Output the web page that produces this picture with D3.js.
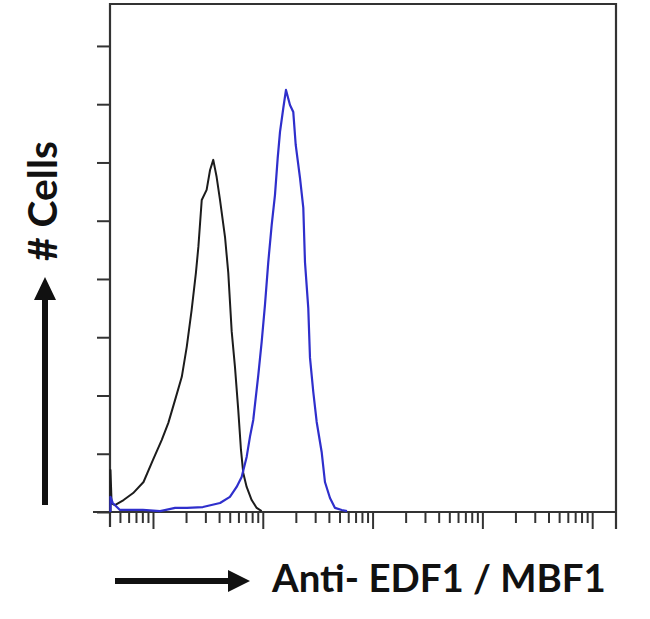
<!DOCTYPE html>
<html>
<head>
<meta charset="utf-8">
<script src="https://cdn.jsdelivr.net/npm/d3@7"></script>
<style>
  html, body { margin: 0; padding: 0; background: #fff; }
  svg { display: block; }
</style>
</head>
<body>
<svg id="chart" width="650" height="619"></svg>
<script>
// ---------------- data ----------------
// Fluorescence intensity (log axis, arbitrary units) and event counts
const isotypeX = [0.41, 0.41, 0.42, 0.45, 0.54, 0.66, 0.82, 1.0, 1.2, 1.38, 1.59, 1.83, 2.03, 2.25, 2.46, 2.59, 2.78, 3.08, 3.31, 3.54, 3.80, 4.08, 4.53, 4.85, 5.21, 5.58, 5.98, 6.33, 6.64, 7.13, 7.92, 8.80, 9.77];
const isotypeY = [0, 14.4, 3.0, 2.4, 4.1, 6.5, 10.3, 17.9, 24.7, 30.6, 38.5, 46.4, 56.7, 69.4, 82.1, 91.0, 107.1, 110.6, 117.4, 120.9, 115.0, 107.1, 94.4, 82.1, 62.0, 49.8, 35.0, 21.3, 13.4, 8.6, 4.1, 1.4, 0.3];

const antibodyX = [0.41, 0.41, 0.43, 0.50, 0.81, 1.16, 1.59, 2.04, 2.85, 4.08, 5.02, 5.78, 6.42, 7.13, 7.64, 8.19, 9.10, 9.77, 10.47, 11.22, 12.05, 12.91, 13.67, 14.35, 15.38, 16.27, 17.69, 18.96, 19.95, 21.82, 23.39, 24.23, 25.96, 26.92, 28.84, 30.97, 34.37, 36.83, 40.93, 45.48, 52.33, 58.5];
const antibodyY = [0, 5.2, 3.1, 0.7, 0.7, 0.3, 1.4, 1.4, 1.7, 3.1, 5.2, 8.6, 12.0, 18.9, 25.8, 31.6, 47.0, 58.4, 71.1, 85.8, 98.5, 108.8, 121.5, 130.5, 138.7, 144.9, 139.7, 137.3, 126.0, 114.7, 104.4, 85.8, 70.0, 52.9, 41.2, 30.9, 20.6, 10.3, 4.8, 1.4, 0.7, 0.3];

const xDomain = [0.406, 16480];
const yMax = 174.4;
const yTicks = [0, 20, 40, 60, 80, 100, 120, 140, 160];
const xMajorTicks = [1, 10, 100, 1000, 10000];
const xMinorTicks = [0.5, 0.6, 0.7, 0.8, 0.9,
  2, 3, 4, 5, 6, 7, 8, 9,
  20, 30, 40, 50, 60, 70, 80, 90,
  200, 300, 400, 500, 600, 700, 800, 900,
  2000, 3000, 4000, 5000, 6000, 7000, 8000, 9000];

const xTitle = "Anti- EDF1 / MBF1";
const yTitle = "# Cells";

// ---------------- layout ----------------
const svg = d3.select("#chart");
const L = 110, R = 616, T = 4, B = 512;
const axisColor = "#333";

const x = d3.scaleLog().domain(xDomain).range([L, R]);
const y = d3.scaleLinear().domain([0, yMax]).range([B, T]);

// frame (top and right)
svg.append("path")
  .attr("d", `M${L},${T}H${R}V${B}`)
  .attr("fill", "none").attr("stroke", axisColor).attr("stroke-width", 2.2);

// y axis
const yAxis = d3.axisLeft(y).tickValues(yTicks).tickSize(13).tickFormat("");
const gy = svg.append("g").attr("transform", `translate(${L},0)`).call(yAxis);
gy.select(".domain").remove();
gy.selectAll(".tick line").attr("stroke", axisColor).attr("stroke-width", 2);
svg.append("line").attr("x1", L).attr("x2", L).attr("y1", T - 1).attr("y2", B + 15)
  .attr("stroke", axisColor).attr("stroke-width", 2.2);

// x axis
const gxMinor = svg.append("g").attr("transform", `translate(0,${B})`)
  .call(d3.axisBottom(x).tickValues(xMinorTicks).tickSize(11).tickFormat(""));
const gxMajor = svg.append("g").attr("transform", `translate(0,${B})`)
  .call(d3.axisBottom(x).tickValues(xMajorTicks).tickSize(17).tickFormat(""));
[gxMinor, gxMajor].forEach(g => {
  g.select(".domain").remove();
  g.selectAll(".tick line").attr("stroke", axisColor).attr("stroke-width", 2);
});
svg.append("line").attr("x1", 93).attr("x2", R + 1).attr("y1", B).attr("y2", B)
  .attr("stroke", axisColor).attr("stroke-width", 2.2);
svg.append("line").attr("x1", R).attr("x2", R).attr("y1", B).attr("y2", B + 17)
  .attr("stroke", axisColor).attr("stroke-width", 2.2);

// curves
const line = d3.line().x(d => x(d[0])).y(d => y(d[1])).curve(d3.curveLinear);
svg.append("path")
  .datum(d3.zip(isotypeX, isotypeY))
  .attr("d", line).attr("fill", "none")
  .attr("stroke", "#1c1c1c").attr("stroke-width", 2).attr("stroke-linejoin", "round");
svg.append("path")
  .datum(d3.zip(antibodyX, antibodyY))
  .attr("d", line).attr("fill", "none")
  .attr("stroke", "#2f2fcc").attr("stroke-width", 2.2).attr("stroke-linejoin", "round");

// y title with arrow
const font = "Lato, 'Open Sans', 'Liberation Sans', sans-serif";
const yt = svg.append("text")
  .attr("transform", "translate(57,201) rotate(-90)")
  .attr("text-anchor", "middle")
  .attr("font-family", font).attr("font-weight", 700).attr("font-size", 28)
  .attr("fill", "#111").text(yTitle);
let w = yt.node().getComputedTextLength();
yt.attr("font-size", 28 * 120 / w);

svg.append("path")
  .attr("d", "M42,505 V300 H34 L45,277 L56,300 H48 V505 Z")
  .attr("fill", "#111");

// x title with arrow
svg.append("path")
  .attr("d", "M115,578 H228 V570 L250,581 L228,592 V584 H115 Z")
  .attr("fill", "#111");
const xt = svg.append("text")
  .attr("x", 272).attr("y", 592)
  .attr("font-family", font).attr("font-weight", 700).attr("font-size", 28)
  .attr("fill", "#111").text(xTitle);
w = xt.node().getComputedTextLength();
xt.attr("font-size", 28 * 334 / w);
</script>
</body>
</html>
